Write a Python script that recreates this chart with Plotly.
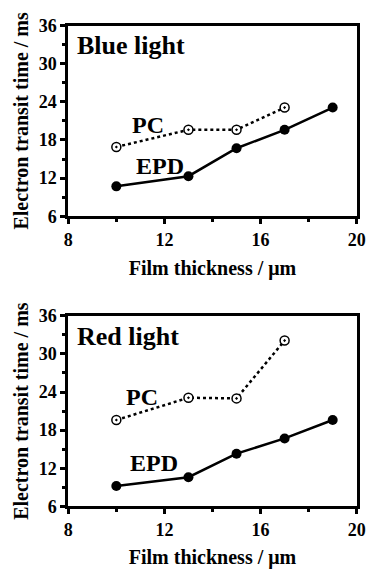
import plotly.graph_objects as go
from plotly.subplots import make_subplots

thickness_epd = [10, 13, 15, 17, 19]
thickness_pc = [10, 13, 15, 17]
blue_epd = [10.7, 12.3, 16.7, 19.6, 23.1]
blue_pc = [16.9, 19.6, 19.6, 23.1]
red_epd = [9.2, 10.6, 14.3, 16.7, 19.6]
red_pc = [19.6, 23.1, 23.0, 32.1]
panel_titles = ["Blue light", "Red light"]
x_ticks = [8, 12, 16, 20]
y_ticks = [6, 12, 18, 24, 30, 36]

FONT = "Liberation Serif, Times New Roman, serif"

fig = make_subplots(rows=2, cols=1)

panels = [(blue_epd, blue_pc), (red_epd, red_pc)]
for i, (epd, pc) in enumerate(panels, start=1):
    fig.add_trace(go.Scatter(x=thickness_pc, y=pc, mode="lines+markers",
                             line=dict(color="black", width=2.5, dash="dot"),
                             marker=dict(symbol="circle-dot", size=9, color="white",
                                         line=dict(color="black", width=1.5)),
                             showlegend=False), row=i, col=1)
    fig.add_trace(go.Scatter(x=thickness_epd, y=epd, mode="lines+markers",
                             line=dict(color="black", width=2.5),
                             marker=dict(symbol="circle", size=10, color="black"),
                             showlegend=False), row=i, col=1)

axis_common = dict(showline=True, linecolor="black", linewidth=3, mirror=True,
                   ticks="outside", ticklen=5, tickwidth=2.5, tickcolor="black",
                   showgrid=False, zeroline=False, automargin=False,
                   tickfont=dict(family=FONT, size=18, color="black", weight="bold"),
                   minor=dict(ticks="outside", ticklen=3, tickwidth=2.5, tickcolor="black"))

xdom = [0.186, 0.972]
ydoms = [[0.620, 0.955], [0.110, 0.445]]
for i in (1, 2):
    fig.update_xaxes(range=[8, 20], tickvals=x_ticks, domain=xdom,
                     minor_tickvals=[10, 14, 18],
                     title=dict(text="Film thickness / μm", standoff=13,
                                font=dict(family=FONT, size=20, color="black", weight="bold")),
                     **axis_common, row=i, col=1)
    fig.update_yaxes(range=[6, 36], tickvals=y_ticks, domain=ydoms[i - 1],
                     minor_tickvals=[9, 15, 21, 27, 33],
                     title=dict(text="Electron transit time / ms", standoff=5,
                                font=dict(family=FONT, size=20, color="black", weight="bold")),
                     **axis_common, row=i, col=1)

label_pos = [
    dict(title=(8.3, 32.8), pc=(11.33, 20.4), epd=(11.83, 13.9)),
    dict(title=(8.3, 32.8), pc=(11.07, 23.2), epd=(11.56, 12.8)),
]
for i, pos in enumerate(label_pos, start=1):
    xr = "x" if i == 1 else "x2"
    yr = "y" if i == 1 else "y2"
    fig.add_annotation(x=pos["title"][0], y=pos["title"][1], xref=xr, yref=yr,
                       text=panel_titles[i - 1], showarrow=False,
                       xanchor="left", yanchor="middle",
                       font=dict(family=FONT, size=26, color="black", weight="bold"))
    fig.add_annotation(x=pos["pc"][0], y=pos["pc"][1], xref=xr, yref=yr,
                       text="PC", showarrow=False,
                       font=dict(family=FONT, size=24, color="black", weight="bold"))
    fig.add_annotation(x=pos["epd"][0], y=pos["epd"][1], xref=xr, yref=yr,
                       text="EPD", showarrow=False,
                       font=dict(family=FONT, size=24, color="black", weight="bold"))

fig.update_layout(width=367, height=569, margin=dict(l=0, r=0, t=0, b=0),
                  paper_bgcolor="white", plot_bgcolor="white",
                  font=dict(family=FONT, color="black"))

fig.write_html("out.html")
